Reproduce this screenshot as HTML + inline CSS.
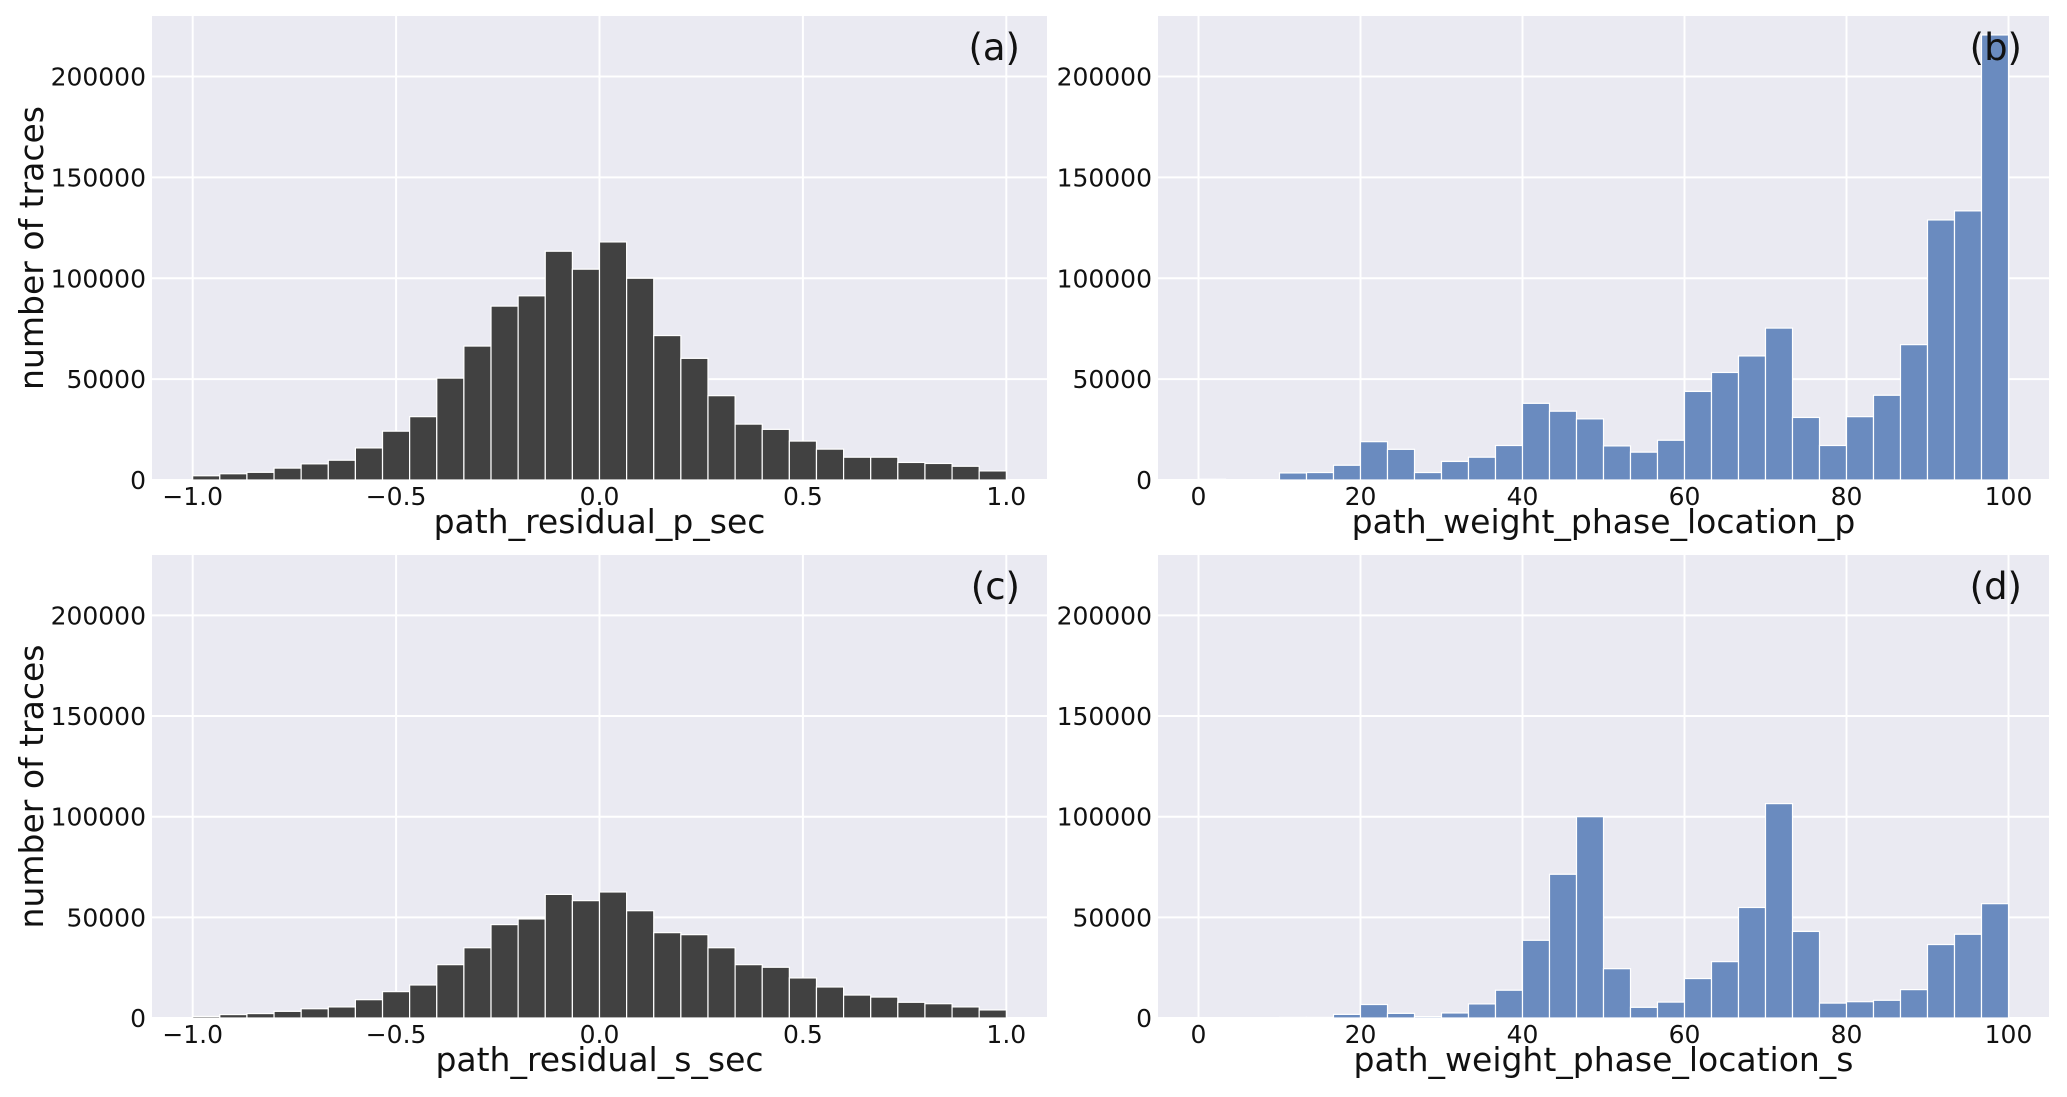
<!DOCTYPE html>
<html><head><meta charset="utf-8"><style>
html,body{margin:0;padding:0;background:#fff;}
svg{display:block;font-family:"DejaVu Sans","Liberation Sans",sans-serif;}
</style></head><body>
<svg id="fig" width="2067" height="1097" viewBox="0 0 2067 1097" xmlns="http://www.w3.org/2000/svg"></svg>
<script>
const residualBins = 30;
const countsA = [2100,3100,3800,5900,8000,9800,15900,24200,31400,50500,66400,86200,91300,113400,104500,118000,100000,71600,60300,41800,27700,25100,19300,15300,11300,11300,8700,8200,6800,4500];
const countsB = [400,0,0,3500,3700,7300,19000,15200,3700,9200,11300,17100,38000,34100,30300,16900,13800,19700,43900,53300,61500,75300,31000,17100,31400,42000,67100,128900,133400,220600];
const countsC = [800,1700,2200,3300,4600,5500,9100,13100,16400,26500,34900,46400,49200,61400,58300,62600,53300,42400,41400,34900,26500,25200,19900,15400,11400,10400,7800,7100,5500,4000];
const countsD = [200,0,0,300,300,1800,6700,2300,700,2500,7000,13800,38600,71400,100000,24500,5300,7900,19600,28000,54900,106500,43000,7400,8100,8800,14100,36500,41600,56800];
const yTicks = [0,50000,100000,150000,200000];
const yTickLabels = ["0","50000","100000","150000","200000"];
const xTicksRes = [-1.0,-0.5,0.0,0.5,1.0];
const xTickLabelsRes = ["\u22121.0","\u22120.5","0.0","0.5","1.0"];
const xTicksW = [0,20,40,60,80,100];
const xTickLabelsW = ["0","20","40","60","80","100"];

const NS="http://www.w3.org/2000/svg";
const svg=document.getElementById('fig');
function mk(tag,attrs,parent){const e=document.createElementNS(NS,tag);for(const k in attrs)e.setAttribute(k,attrs[k]);(parent||svg).appendChild(e);return e;}

const panels=[
 {id:'a',counts:countsA,x0:152,x1:1047,y0:16,y1:480,xmin:-1.1,xmax:1.1,lo:-1,hi:1,color:'#414141',xt:xTicksRes,xl:xTickLabelsRes,label:'path_residual_p_sec',ylab:true},
 {id:'b',counts:countsB,x0:1158,x1:2049,y0:16,y1:480,xmin:-5,xmax:105,lo:0,hi:100,color:'#6a8bbf',xt:xTicksW,xl:xTickLabelsW,label:'path_weight_phase_location_p',ylab:false},
 {id:'c',counts:countsC,x0:152,x1:1047,y0:555,y1:1018,xmin:-1.1,xmax:1.1,lo:-1,hi:1,color:'#414141',xt:xTicksRes,xl:xTickLabelsRes,label:'path_residual_s_sec',ylab:true},
 {id:'d',counts:countsD,x0:1158,x1:2049,y0:555,y1:1018,xmin:-5,xmax:105,lo:0,hi:100,color:'#6a8bbf',xt:xTicksW,xl:xTickLabelsW,label:'path_weight_phase_location_s',ylab:false}
];
const YMAX=230000;
panels.forEach(p=>{
  const g=mk('g',{});
  
  
  const sx=v=>p.x0+(v-p.xmin)/(p.xmax-p.xmin)*(p.x1-p.x0);
  const sy=v=>p.y1-v/YMAX*(p.y1-p.y0);
  const bg=mk('rect',{x:p.x0,y:p.y0,width:p.x1-p.x0,height:p.y1-p.y0,fill:'#eaeaf2'},g);
  
  
  yTicks.forEach((t,i)=>{
    const l=mk('line',{x1:p.x0,x2:p.x1,y1:sy(t),y2:sy(t),stroke:'#fff','stroke-width':2},g);
    
    
    const tx=mk('text',{x:p.x0-6,y:sy(t)+9,'text-anchor':'end','font-size':25,fill:'#111'},g);
    tx.textContent=yTickLabels[i];
    
    
  });
  p.xt.forEach((t,i)=>{
    const l=mk('line',{x1:sx(t),x2:sx(t),y1:p.y0,y2:p.y1,stroke:'#fff','stroke-width':2},g);
    
    
    const tx=mk('text',{x:sx(t),y:p.y1+25,'text-anchor':'middle','font-size':25,fill:'#111'},g);
    tx.textContent=p.xl[i];
    
    
  });
  const n=p.counts.length, w=(p.hi-p.lo)/n;
  p.counts.forEach((c,i)=>{
    if(c<=0)return;
    const xa=sx(p.lo+i*w), xb=sx(p.lo+(i+1)*w);
    const r=mk('rect',{x:xa,y:sy(c),width:xb-xa,height:sy(0)-sy(c),fill:p.color,stroke:'#fff','stroke-width':1.2},g);
    
    
  });
  const xl=mk('text',{x:(p.x0+p.x1)/2,y:p.y1+53,'text-anchor':'middle','font-size':33,fill:'#111'},g);
  xl.textContent=p.label;
  
  
  const pl=mk('text',{x:p.x1-27,y:p.y0+44,'text-anchor':'end','font-size':37,fill:'#111'},g);
  pl.textContent='('+p.id+')';
  
  
  if(p.ylab){
    const cy=(p.y0+p.y1)/2;
    const yl=mk('text',{x:43,y:cy,'text-anchor':'middle','font-size':33,fill:'#111',transform:'rotate(-90 43 '+cy+')'},g);
    yl.textContent='number of traces';
    
    
  }
});
</script>
</body></html>
